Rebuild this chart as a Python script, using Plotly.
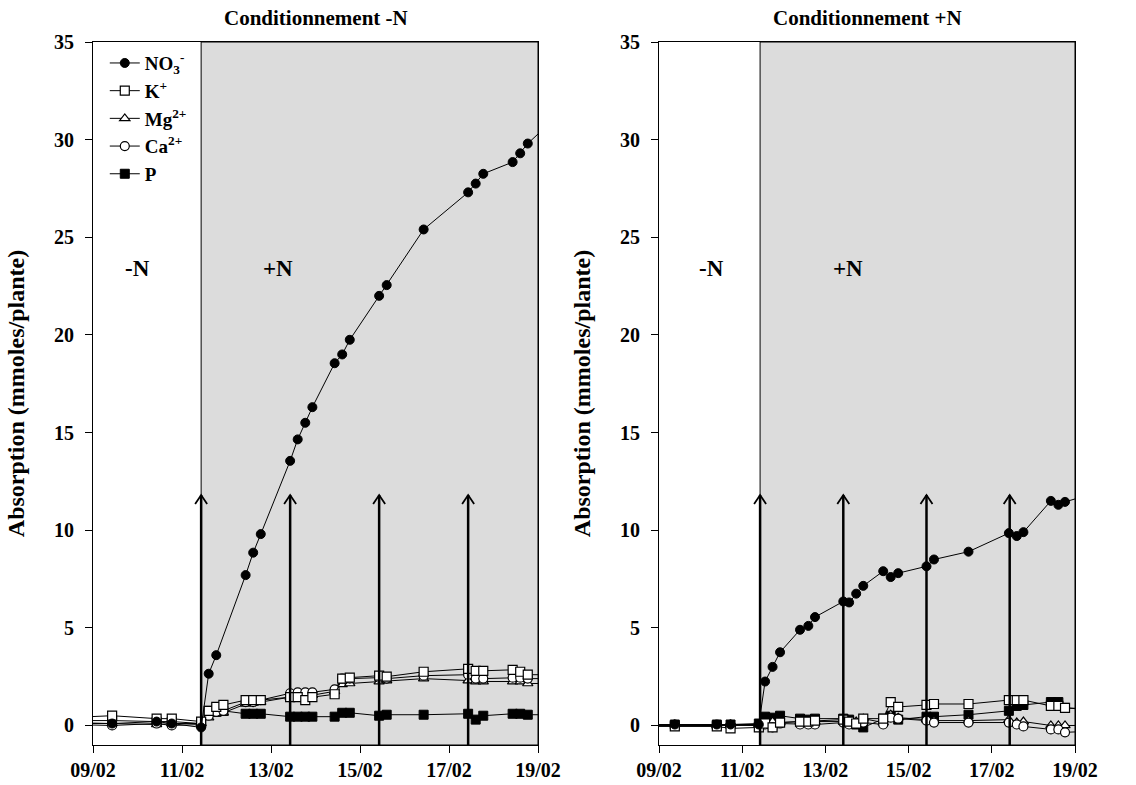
import plotly.graph_objects as go

# ---------------- data ----------------
ions = ["NO<sub>3</sub><sup>-</sup>", "K<sup>+</sup>", "Mg<sup>2+</sup>", "Ca<sup>2+</sup>", "P"]

# panel "Conditionnement -N" (days of February)
left_days = [8.43, 9.43, 10.43, 10.77, 11.43, 11.6, 11.77, 11.93, 12.43, 12.6, 12.77,
             13.43, 13.6, 13.77, 13.93, 14.43, 14.6, 14.77, 15.43, 15.6, 16.43,
             17.43, 17.6, 17.77, 18.43, 18.6, 18.77, 19.43]
left_no3 = [0.1, 0.1, 0.2, 0.1, -0.1, 2.65, 3.6, None, 7.7, 8.85, 9.8, 13.55, 14.65, 15.5,
            16.3, 18.55, 19.0, 19.75, 22.0, 22.55, 25.4, 27.3, 27.75, 28.25, 28.85, 29.3,
            29.8, 31.2]
left_k = [0.4, 0.5, 0.35, 0.35, 0.2, 0.75, 0.95, 1.05, 1.3, 1.3, 1.3, 1.45, 1.45, 1.3, 1.45,
          1.6, 2.4, 2.45, 2.55, 2.5, 2.75, 2.9, 2.8, 2.8, 2.85, 2.75, 2.6, 2.6]
left_mg = [0.15, 0.1, 0.05, 0.1, 0.1, 0.4, 0.6, 0.65, 1.1, 1.15, 1.2, 1.45, 1.5, 1.5, 1.55,
           1.75, 2.1, 2.15, 2.25, 2.3, 2.4, 2.3, 2.25, 2.25, 2.25, 2.25, 2.15, 2.15]
left_ca = [0.05, 0.0, 0.1, 0.0, 0.05, 0.5, 0.7, 0.75, 1.2, 1.2, 1.3, 1.65, 1.7, 1.7, 1.7,
           1.85, 2.4, 2.4, 2.45, 2.4, 2.55, 2.6, 2.4, 2.4, 2.45, 2.45, 2.4, 2.4]
left_p = [0.25, 0.25, 0.2, 0.2, 0.1, 0.75, 0.7, 0.75, 0.6, 0.6, 0.6, 0.45, 0.45, 0.45, 0.45,
          0.45, 0.65, 0.65, 0.5, 0.55, 0.55, 0.6, 0.3, 0.5, 0.6, 0.6, 0.55, 0.55]

# panel "Conditionnement +N"
right_days = [8.4, 9.38, 10.39, 10.72, 11.40, 11.55, 11.73, 11.91, 12.39, 12.59, 12.75,
              13.43, 13.57, 13.74, 13.91, 14.39, 14.57, 14.75, 15.43, 15.61, 16.44,
              17.41, 17.60, 17.76, 18.42, 18.60, 18.76, 19.4]
right_no3 = [0.0, 0.05, 0.05, 0.05, 0.05, 2.25, 3.0, 3.75, 4.9, 5.1, 5.55, 6.35, 6.3, 6.75,
             7.15, 7.9, 7.6, 7.8, 8.15, 8.5, 8.9, 9.85, 9.7, 9.9, 11.5, 11.3, 11.45, 11.85]
right_k = [-0.05, -0.05, -0.05, -0.15, -0.1, 0.1, -0.1, 0.15, 0.2, 0.2, 0.25, 0.3, 0.2, 0.1,
           0.35, 0.35, 1.2, 0.95, 1.05, 1.1, 1.1, 1.3, 1.3, 1.3, 1.0, 1.0, 0.9, 0.8]
right_mg = [0.05, 0.05, 0.0, 0.05, 0.05, 0.1, 0.2, 0.15, 0.2, 0.2, 0.2, 0.2, 0.2, 0.2, 0.35,
            0.15, 0.55, 0.4, 0.3, 0.25, 0.25, 0.3, 0.15, 0.2, 0.0, 0.0, 0.0, 0.0]
right_ca = [0.0, 0.0, 0.0, 0.0, 0.0, 0.05, -0.1, 0.1, 0.05, 0.05, 0.05, 0.15, 0.05, 0.1,
            0.15, 0.05, 0.4, 0.35, 0.25, 0.15, 0.15, 0.15, 0.05, -0.05, -0.2, -0.2, -0.35, -0.3]
right_p = [0.05, 0.05, 0.05, 0.05, 0.1, 0.45, 0.4, 0.5, 0.35, 0.3, 0.35, 0.35, 0.3, 0.05,
           -0.1, 0.35, 0.5, 0.3, 0.45, 0.45, 0.55, 0.75, 1.0, 1.05, 1.2, 1.2, 0.9, 0.85]

transfer_day = 11.43                        # start of +N period (shaded)
n_supply_days = [11.43, 13.43, 15.43, 17.43]  # arrows
arrow_top = 11.8

x_tick_days = [9, 11, 13, 15, 17, 19]
x_tick_labels = ["09/02", "11/02", "13/02", "15/02", "17/02", "19/02"]
y_ticks = [0, 5, 10, 15, 20, 25, 30, 35]
panel_titles = ["Conditionnement -N", "Conditionnement +N"]
y_title = "Absorption (mmoles/plante)"

# ---------------- figure ----------------
FONT = "Liberation Serif"
W, H = 1136, 785
ML, MR = 93, 61
PW = W - ML - MR
styles = [
    dict(symbol="circle", color="black", line=dict(color="black", width=1)),
    dict(symbol="square", color="white", line=dict(color="black", width=1.2)),
    dict(symbol="triangle-up", color="white", line=dict(color="black", width=1.2)),
    dict(symbol="circle", color="white", line=dict(color="black", width=1.2)),
    dict(symbol="square", color="black", line=dict(color="black", width=1)),
]

fig = go.Figure()
panels = [
    ("x", "y", left_days, [left_no3, left_k, left_mg, left_ca, left_p], True),
    ("x2", "y2", right_days, [right_no3, right_k, right_mg, right_ca, right_p], False),
]
order = [4, 2, 3, 1, 0]
for xa, ya, days, series, showleg in panels:
    for i in order:
        fig.add_trace(go.Scatter(
            x=days, y=series[i], xaxis=xa, yaxis=ya, mode="lines+markers",
            name=ions[i], legendgroup=ions[i], showlegend=showleg, legendrank=i,
            connectgaps=True,
            line=dict(color="black", width=1),
            marker=dict(size=9, **styles[i]),
        ))

shapes = []
annotations = []
for k, (xa, ya) in enumerate([("x", "y"), ("x2", "y2")]):
    shapes.append(dict(type="rect", xref=xa, yref=ya, x0=transfer_day, x1=19, y0=-1, y1=35,
                       fillcolor="#dcdcdc", line=dict(color="black", width=1), layer="below"))
    for d in n_supply_days:
        # shaft
        shapes.append(dict(type="line", xref=xa, yref=ya, x0=d, x1=d, y0=-1, y1=arrow_top,
                           line=dict(color="black", width=2.5), layer="above"))
        # open arrow head (fixed pixel size, anchored at the arrow tip)
        shapes.append(dict(type="path", xref=xa, yref=ya, xsizemode="pixel",
                           ysizemode="pixel", xanchor=d, yanchor=arrow_top,
                           path="M-6,-9 L0,0 L6,-9",
                           line=dict(color="black", width=1.8), layer="above"))
    xdom = "x domain" if xa == "x" else "x2 domain"
    annotations.append(dict(x=0.5, y=1, xref=xdom, yref="paper", yshift=10,
                            yanchor="bottom", showarrow=False, text=panel_titles[k],
                            font=dict(family=FONT, size=21, color="black", weight="bold")))

# -N / +N labels
for xa, ya, xm, xp in [("x", "y", 10.0, 13.15), ("x2", "y2", 10.27, 13.54)]:
    for xx, t in [(xm, "-N"), (xp, "+N")]:
        annotations.append(dict(x=xx, y=23.4, xref=xa, yref=ya, text=t, showarrow=False,
                                font=dict(family=FONT, size=23, color="black", weight="bold")))

axis_common = dict(showline=True, linecolor="black", linewidth=1, mirror=True,
                   ticks="outside", ticklen=7, tickcolor="black", showgrid=False,
                   zeroline=False, automargin=False,
                   tickfont=dict(family=FONT, size=20, color="black", weight="bold"))
xaxis_common = dict(axis_common, range=[9, 19], tickvals=x_tick_days, ticktext=x_tick_labels)
yaxis_common = dict(axis_common, range=[-1, 35], tickvals=y_ticks, ticklabelstandoff=7,
                    title=dict(text=y_title, standoff=22,
                               font=dict(family=FONT, size=24, color="black", weight="bold")))

fig.update_layout(
    width=W, height=H,
    margin=dict(l=ML, r=MR, t=42, b=40, autoexpand=False),
    paper_bgcolor="white", plot_bgcolor="white",
    font=dict(family=FONT, color="black"),
    xaxis=dict(xaxis_common, domain=[0, (538 - ML) / PW], anchor="y"),
    yaxis=dict(yaxis_common, domain=[0, 1], anchor="x"),
    xaxis2=dict(xaxis_common, domain=[(659 - ML) / PW, (1075 - ML) / PW], anchor="y2"),
    yaxis2=dict(yaxis_common, domain=[0, 1], anchor="x2"),
    shapes=shapes,
    annotations=annotations,
    legend=dict(x=0.012, y=0.997, xanchor="left", yanchor="top",
                bgcolor="rgba(0,0,0,0)", borderwidth=0, itemwidth=30,
                tracegroupgap=0, traceorder="normal",
                font=dict(family=FONT, size=19, color="black", weight="bold")),
    showlegend=True,
)

fig.write_html("out.html", config={"displayModeBar": False},
               post_script="document.body.style.margin='0';")
